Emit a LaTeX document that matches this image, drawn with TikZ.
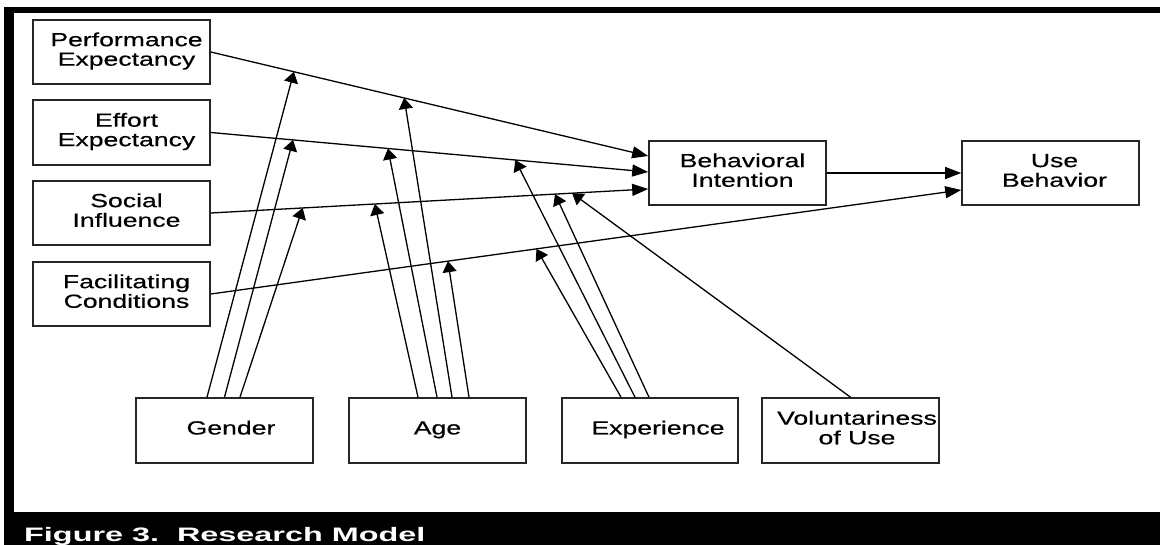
\documentclass[tikz,border=0pt]{standalone}
\usepackage{fontspec}
\usetikzlibrary{arrows.meta}
\newfontfamily\dfont{Liberation Sans}[FakeStretch=1.4,FakeBold=0.5]
\newfontfamily\cfont{Liberation Sans}[FakeStretch=1.66]
\newcommand\boxtext[2]{\hspace*{#1}\raisebox{-2pt}{\begin{tabular}{@{}c@{}}#2\end{tabular}}}
\tikzset{
  mbox/.style={draw=black!85, line width=1.6pt, minimum width=177pt, minimum height=64pt,
    inner sep=0pt, font=\dfont\fontsize{19}{19.5}\selectfont},
  harr/.style={line width=1.3pt, -{Triangle[length=16pt,width=12pt]}},
  varr/.style={line width=1.3pt, -{Triangle[length=11pt,width=14pt]}},
}
\begin{document}
\begin{tikzpicture}[x=1pt,y=-1pt]
\useasboundingbox (0,0) rectangle (1160,545);
\fill[white] (0,0) rectangle (1160,545);
% frame
\fill[black] (4,7) rectangle (1160,13);
\fill[black] (4,7) rectangle (14,545);
\fill[black] (4,512) rectangle (1160,545);
\node[anchor=base west, text=white, inner sep=0pt,
  font=\cfont\bfseries\fontsize{19.5}{20}\selectfont] (cap) at (24,541) {Figure 3.~~Research Model};
% boxes
\node[mbox] (PE) at (121.5,52) {\boxtext{10pt}{Performance\\Expectancy}};
\node[mbox, minimum height=65pt] (EE) at (121.5,132.5) {\boxtext{10pt}{Effort\\Expectancy}};
\node[mbox] (SI) at (121.5,213) {\boxtext{10pt}{Social\\Influence}};
\node[mbox] (FC) at (121.5,294) {\boxtext{10pt}{Facilitating\\Conditions}};
\node[mbox] (BI) at (737.5,173) {\boxtext{10pt}{Behavioral\\Intention}};
\node[mbox] (UB) at (1050.5,173) {\boxtext{8pt}{Use\\Behavior}};
\node[mbox, minimum height=65pt] (G) at (224.5,430.5) {\boxtext{13pt}{Gender}};
\node[mbox, minimum height=65pt] (A) at (437.5,430.5) {\boxtext{0pt}{Age}};
\node[mbox, minimum height=65pt, minimum width=176pt] (X) at (650,430.5) {\boxtext{16pt}{Experience}};
\node[mbox, minimum height=65pt] (V) at (850.5,430.5) {\boxtext{13pt}{Voluntariness\\of Use}};
% main paths
\draw[harr] (PE.east) -- ([yshift=17pt]BI.west)
  coordinate[pos=0.19] (g1) coordinate[pos=0.442] (a1);
\draw[harr] (EE.east) -- ([yshift=1pt]BI.west)
  coordinate[pos=0.188] (g2) coordinate[pos=0.405] (a2) coordinate[pos=0.696] (e2);
\draw[harr] (SI.east) -- ([yshift=-16pt]BI.west)
  coordinate[pos=0.21] (g3) coordinate[pos=0.375] (a3) coordinate[pos=0.787] (e3) coordinate[pos=0.826] (v3);
\draw[harr] (FC.east) -- ([yshift=-17pt]UB.west)
  coordinate[pos=0.316] (a4) coordinate[pos=0.434] (e4);
\draw[harr] (BI.east) -- (UB.west);
% moderators
\draw[varr] ([xshift=-17.5pt]G.north) -- (g1);
\draw[varr] ([xshift=0pt]G.north) -- (g2);
\draw[varr] ([xshift=15.5pt]G.north) -- (g3);
\draw[varr] ([xshift=-19.5pt]A.north) -- (a3);
\draw[varr] ([xshift=-0.5pt]A.north) -- (a2);
\draw[varr] ([xshift=14.5pt]A.north) -- (a1);
\draw[varr] ([xshift=31.5pt]A.north) -- (a4);
\draw[varr] ([xshift=-29pt]X.north) -- (e4);
\draw[varr] ([xshift=-15pt]X.north) -- (e2);
\draw[varr] ([xshift=-1pt]X.north) -- (e3);
\draw[varr] ([xshift=0pt]V.north) -- (v3);
\end{tikzpicture}
\end{document}
